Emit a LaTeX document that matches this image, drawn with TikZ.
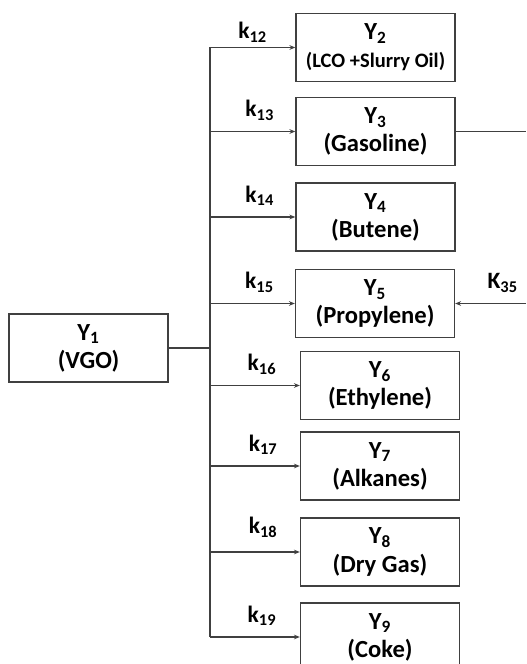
\documentclass[tikz,border=0pt]{standalone}
\usepackage{fontspec}
\setmainfont{Carlito}
\usetikzlibrary{arrows.meta}

\begin{document}
\begin{tikzpicture}[
  box/.style={draw=black!75, line width=1.2pt, minimum width=4.77cm, minimum height=2.04cm,
    inner sep=0pt, align=center, font=\fontsize{21}{24}\selectfont\bfseries},
  link/.style={draw=black!75, line width=1pt},
  feed/.style={link, -{Stealth[length=5pt, width=4pt]}},
  rate/.style={font=\fontsize{20}{24}\selectfont\bfseries, inner sep=0pt, yshift=9pt}
]

% Frame
\useasboundingbox (0,0) rectangle (15.78,19.92);
\clip (0,0) rectangle (15.78,19.92);

% Feed lump
\node[box] (Y1) at (2.655,9.48) {Y\textsubscript{1}\\(VGO)};

% Product lumps
\node[box] (Y2) at (11.265,18.495) {Y\textsubscript{2}\\{\fontsize{17.5}{20}\selectfont (LCO +Slurry Oil)}};
\node[box] (Y3) at (11.265,15.975) {Y\textsubscript{3}\\(Gasoline)};
\node[box] (Y4) at (11.265,13.41) {Y\textsubscript{4}\\(Butene)};
\node[box] (Y5) at (11.25,10.815) {Y\textsubscript{5}\\(Propylene)};
\node[box] (Y6) at (11.4,8.355) {Y\textsubscript{6}\\(Ethylene)};
\node[box] (Y7) at (11.4,5.94) {Y\textsubscript{7}\\(Alkanes)};
\node[box] (Y8) at (11.4,3.36) {Y\textsubscript{8}\\(Dry Gas)};
\node[box] (Y9) at (11.4,0.81) {Y\textsubscript{9}\\(Coke)};

% Bus and right edge
\coordinate (bus) at (6.3,9.42);
\coordinate (edge) at (15.78,9.42);

% Feed to bus
\draw[link] (Y1.east) -- (Y1.east -| bus);
\draw[link] (bus |- Y2.west) -- (bus |- Y9.west);

% Cracking paths
\draw[feed] (bus |- Y2.west) -- node[rate, above, yshift=-5pt] {k\textsubscript{12}} (Y2.west);
\draw[feed] (bus |- Y3.west) -- node[rate, above, xshift=6pt] {k\textsubscript{13}} (Y3.west);
\draw[feed] (bus |- Y4.west) -- node[rate, above, xshift=6pt] {k\textsubscript{14}} (Y4.west);
\draw[feed] (bus |- Y5.west) -- node[rate, above, xshift=6pt] {k\textsubscript{15}} (Y5.west);
\draw[feed] (bus |- Y6.west) -- node[rate, above, xshift=6pt] {k\textsubscript{16}} (Y6.west);
\draw[feed] (bus |- Y7.west) -- node[rate, above, xshift=7pt] {k\textsubscript{17}} (Y7.west);
\draw[feed] (bus |- Y8.west) -- node[rate, above, xshift=7pt, yshift=3pt] {k\textsubscript{18}} (Y8.west);
\draw[feed] (bus |- Y9.west) -- node[rate, above, xshift=6pt] {k\textsubscript{19}} (Y9.west);

% Gasoline to propylene (off the right side)
\draw[link] (Y3.east) -- (Y3.east -| edge);
\draw[feed] (Y5.east -| edge) -- node[rate, above, pos=0.33] {K\textsubscript{35}} (Y5.east);

\end{tikzpicture}
\end{document}
